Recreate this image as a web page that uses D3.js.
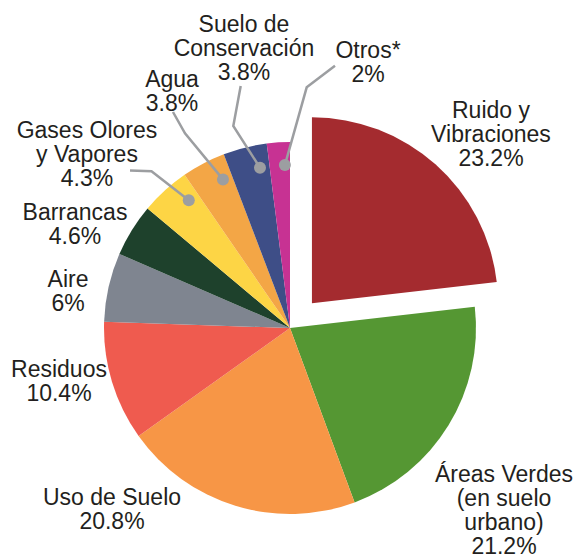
<!DOCTYPE html>
<html>
<head>
<meta charset="utf-8">
<script src="https://cdn.jsdelivr.net/npm/d3@7/dist/d3.min.js"></script>
<style>
  html, body { margin: 0; padding: 0; background: #ffffff; }
  svg { display: block; }
</style>
</head>
<body>
<svg id="chart" width="580" height="560"></svg>
<script>
// ---- data ----
const categories = ["Ruido y Vibraciones", "Áreas Verdes (en suelo urbano)", "Uso de Suelo", "Residuos", "Aire", "Barrancas", "Gases Olores y Vapores", "Agua", "Suelo de Conservación", "Otros*"];
const values = [23.2, 21.2, 20.8, 10.4, 6, 4.6, 4.3, 3.8, 3.8, 2];
const valueLabels = ["23.2%", "21.2%", "20.8%", "10.4%", "6%", "4.6%", "4.3%", "3.8%", "3.8%", "2%"];
const labelLines = [["Ruido y", "Vibraciones"], ["Áreas Verdes", "(en suelo", "urbano)"], ["Uso de Suelo"], ["Residuos"], ["Aire"], ["Barrancas"], ["Gases Olores", "y Vapores"], ["Agua"], ["Suelo de", "Conservación"], ["Otros*"]];
const colors = ["#A42B2F", "#559733", "#F79646", "#EF5B4F", "#7F8590", "#1E412C", "#FDD545", "#F3A646", "#3E4E87", "#C73293"];

// ---- layout ----
const W = 580, H = 560;
const cx = 290, cy = 328, R = 186;
const explodeIndex = 0, explodeDist = 33;
const fontSize = 23;
// label anchor: [center x, first baseline y, line height]
const labelPos = [[491, 118, 24], [504, 482, 24], [112, 505, 24], [59, 377, 24], [68, 287, 24], [75, 220, 24], [87, 138, 24], [172, 87, 24], [244, 32, 24], [368, 58, 24]];
// leader lines: slice index -> [elbow, end]
const leaders = [
  { i: 6, pts: [[151.5, 171.3], [130, 170.5]] },
  { i: 7, pts: [[185, 133.3], [173, 112]] },
  { i: 8, pts: [[233.3, 126], [240.7, 86]] },
  { i: 9, pts: [[306.7, 87.3], [335, 65.7]] }
];

const svg = d3.select("#chart");
const g = svg.append("g").attr("transform", `translate(${cx},${cy})`);

const pie = d3.pie().sort(null).value(d => d).startAngle(0).endAngle(2 * Math.PI);
const arcs = pie(values);
const arc = d3.arc().innerRadius(0).outerRadius(R);

g.selectAll("path.slice")
  .data(arcs)
  .join("path")
  .attr("class", "slice")
  .attr("fill", (d, i) => colors[i])
  .attr("d", arc)
  .attr("transform", (d, i) => {
    if (i !== explodeIndex) return null;
    const mid = (d.startAngle + d.endAngle) / 2;
    return `translate(${explodeDist * Math.sin(mid)},${-explodeDist * Math.cos(mid)})`;
  });

// leader lines with dots
const lineColor = "#9C9EA1";
leaders.forEach(L => {
  const d = arcs[L.i];
  const a = d.startAngle + 0.75 * (d.endAngle - d.startAngle);
  const r = 163;
  const dot = [cx + r * Math.sin(a), cy - r * Math.cos(a)];
  const pts = [dot].concat(L.pts);
  svg.append("path")
    .attr("d", d3.line()(pts))
    .attr("fill", "none")
    .attr("stroke", lineColor)
    .attr("stroke-width", 2.5)
    .attr("stroke-linejoin", "miter");
  svg.append("circle")
    .attr("cx", dot[0]).attr("cy", dot[1]).attr("r", 6)
    .attr("fill", lineColor);
});

// labels
const labels = svg.append("g")
  .attr("font-family", "'Liberation Sans', Arial, Helvetica, sans-serif")
  .attr("font-size", fontSize)
  .attr("fill", "#231F20")
  .attr("text-anchor", "middle");

categories.forEach((c, i) => {
  const lines = labelLines[i].concat([valueLabels[i]]);
  const [lx, ly, lh] = labelPos[i];
  const t = labels.append("text")
    .attr("x", lx)
    .attr("y", ly);
  lines.forEach((ln, k) => {
    t.append("tspan")
      .attr("x", lx)
      .attr("y", ly + k * lh)
      .text(ln);
  });
});
</script>
</body>
</html>
